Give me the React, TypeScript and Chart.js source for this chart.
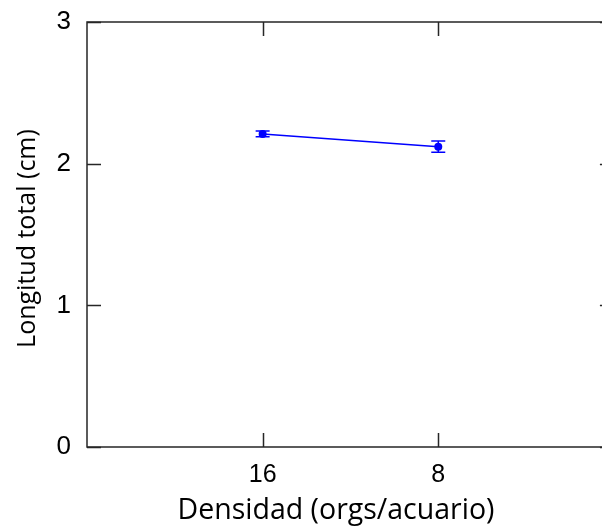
import React, { useEffect, useRef } from "react";
import { Chart, registerables } from "chart.js";

Chart.register(...registerables);

// Stocking density groups and measured total length (mean ± error)
const densidades = ["16", "8"];
const longitudMedia = [2.21, 2.12];
const longitudError = [0.02, 0.04];
const yTicks = [0, 1, 2, 3];

const xTitle = "Densidad (orgs/acuario)";
const yTitle = "Longitud total (cm)";

// Axis box runs from -1 to 2 in category-index units; the view stops a little short of the right edge
const X_BOX_MIN = -1;
const X_BOX_MAX = 2;
const X_VIEW_MAX = 1.955;

const AXIS_COLOR = "#262626";
const SERIES_COLOR = "#0000ff";
const TICK_LEN = 14;

// Box frame with inward ticks on all four sides, error bars and axis titles
const framePlugin = {
  id: "frameAndErrors",
  afterDatasetsDraw(chart: any) {
    const { ctx, chartArea, scales } = chart;
    const xs = scales.x;
    const ys = scales.y;
    const left = xs.getPixelForValue(X_BOX_MIN);
    const right = xs.getPixelForValue(X_BOX_MAX);
    const top = chartArea.top;
    const bottom = chartArea.bottom;

    ctx.save();
    // error bars
    ctx.strokeStyle = SERIES_COLOR;
    ctx.lineWidth = 1.5;
    longitudMedia.forEach((m, i) => {
      const x = xs.getPixelForValue(i);
      const y1 = ys.getPixelForValue(m + longitudError[i]);
      const y2 = ys.getPixelForValue(m - longitudError[i]);
      ctx.beginPath();
      ctx.moveTo(x, y1);
      ctx.lineTo(x, y2);
      ctx.moveTo(x - 7, y1);
      ctx.lineTo(x + 7, y1);
      ctx.moveTo(x - 7, y2);
      ctx.lineTo(x + 7, y2);
      ctx.stroke();
    });

    // frame
    ctx.strokeStyle = AXIS_COLOR;
    ctx.lineWidth = 1.5;
    ctx.beginPath();
    ctx.rect(left, top, right - left, bottom - top);
    ctx.stroke();

    // inward ticks
    ctx.beginPath();
    densidades.forEach((_, i) => {
      const x = Math.round(xs.getPixelForValue(i)) + 0.5;
      ctx.moveTo(x, bottom);
      ctx.lineTo(x, bottom - TICK_LEN);
      ctx.moveTo(x, top);
      ctx.lineTo(x, top + TICK_LEN);
    });
    yTicks.forEach((v) => {
      const y = Math.round(ys.getPixelForValue(v)) + 0.5;
      ctx.moveTo(left, y);
      ctx.lineTo(left + TICK_LEN, y);
      ctx.moveTo(right, y);
      ctx.lineTo(right - TICK_LEN, y);
    });
    ctx.stroke();

    // axis titles
    ctx.fillStyle = "#000";
    ctx.textAlign = "center";
    ctx.textBaseline = "middle";
    ctx.font = "28.5px 'Open Sans'";
    ctx.fillText(xTitle, left + 249, bottom + 64);

    ctx.font = "25px 'Open Sans'";
    ctx.translate(20, (top + bottom) / 2 + 4);
    ctx.rotate(-Math.PI / 2);
    ctx.fillText(yTitle, 0, 0);
    ctx.restore();
  },
};

export default function App() {
  const canvasRef = useRef<HTMLCanvasElement | null>(null);

  useEffect(() => {
    document.documentElement.style.overflow = "hidden";
    const canvas = canvasRef.current;
    if (!canvas) return;

    const chart = new Chart(canvas, {
      type: "line",
      data: {
        datasets: [
          {
            data: longitudMedia.map((v, i) => ({ x: i, y: v })),
            borderColor: SERIES_COLOR,
            backgroundColor: SERIES_COLOR,
            borderWidth: 1.5,
            pointRadius: 4,
            pointBorderWidth: 0,
            pointBackgroundColor: SERIES_COLOR,
            tension: 0,
            clip: false,
          },
        ],
      },
      options: {
        responsive: false,
        animation: false,
        events: [],
        layout: { padding: { top: 14, right: 0, left: 0, bottom: 0 } },
        plugins: {
          legend: { display: false },
          tooltip: { enabled: false },
        },
        scales: {
          x: {
            type: "linear",
            min: X_BOX_MIN,
            max: X_VIEW_MAX,
            grid: { display: false },
            border: { display: false },
            afterBuildTicks: (scale: any) => {
              scale.ticks = densidades.map((_, i) => ({ value: i }));
            },
            afterFit: (scale: any) => {
              scale.height = 84;
              scale.paddingLeft = 0;
              scale.paddingRight = 0;
            },
            ticks: {
              autoSkip: false,
              maxRotation: 0,
              padding: 5,
              color: "#000",
              font: { family: "'Liberation Sans'", size: 25 },
              callback: (v: any) => densidades[v] ?? "",
            },
          },
          y: {
            min: 0,
            max: 3,
            grid: { display: false },
            border: { display: false },
            afterBuildTicks: (scale: any) => {
              scale.ticks = yTicks.map((v) => ({ value: v }));
            },
            afterFit: (scale: any) => {
              scale.width = 79;
              scale.paddingTop = 0;
              scale.paddingBottom = 0;
            },
            ticks: {
              padding: 8,
              color: "#000",
              font: { family: "'Liberation Sans'", size: 26 },
            },
          },
        },
      },
      plugins: [framePlugin],
    });

    return () => chart.destroy();
  }, []);

  return <canvas ref={canvasRef} width={602} height={523} style={{ display: "block" }} />;
}
